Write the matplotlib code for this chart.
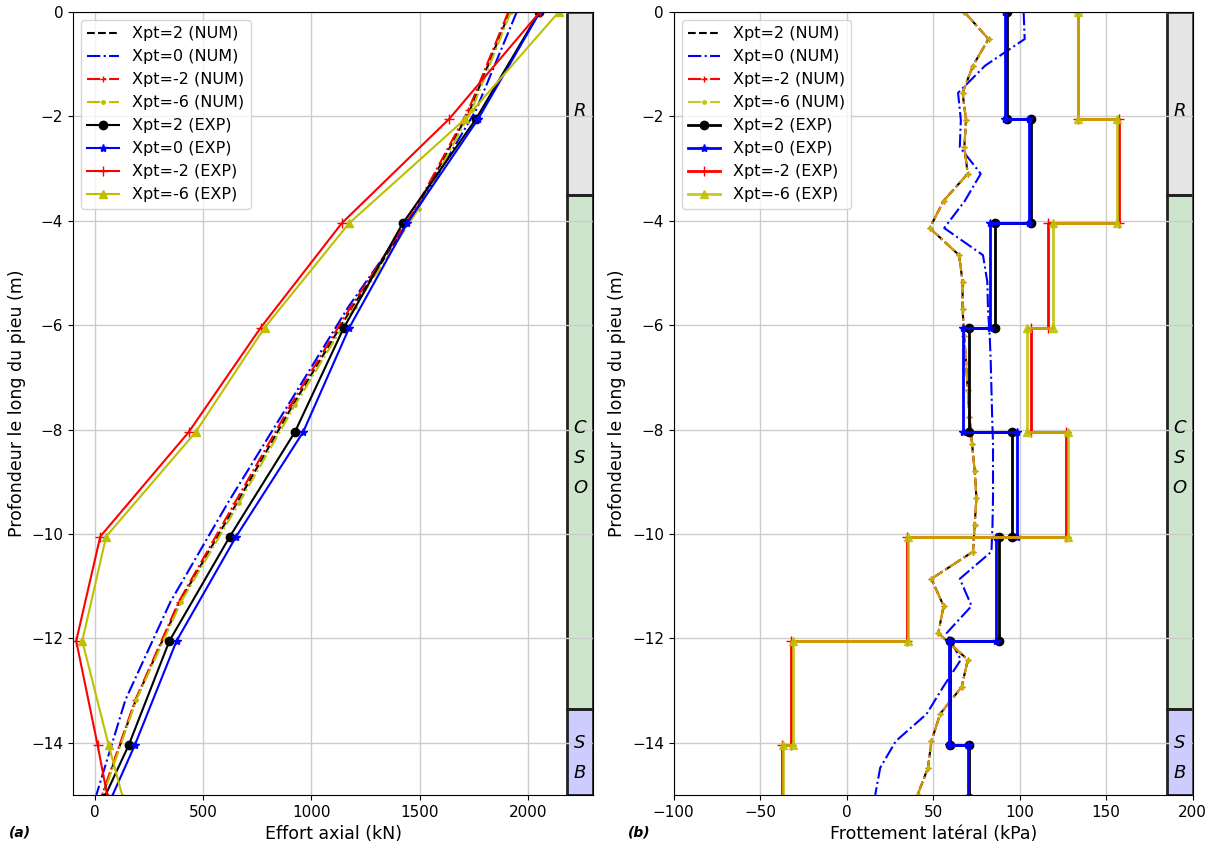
import numpy as np
import matplotlib
matplotlib.use("Agg")
import matplotlib.pyplot as plt
from matplotlib.patches import Rectangle
import matplotlib.transforms as mtransforms

# ---- data ----
# experimental gauges (depth of each measurement level, m)
z_exp = [0, -2.05, -4.05, -6.05, -8.05, -10.05, -12.05, -14.05, -15.05]

# axial load (kN)
N_exp_2 = [2052, 1760, 1422, 1150, 924, 624, 345, 157, 45]
N_exp_0 = [2055, 1770, 1442, 1175, 962, 653, 378, 185, 78]
N_exp_m2 = [2055, 1636, 1140, 766, 434, 26, -85, 14, 60]
N_exp_m6 = [2142, 1710, 1174, 784, 466, 53, -57, 65, 130]

# numerical axial load (kN)
z_num_N = [0, -1.88, -3.77, -5.65, -7.53, -9.41, -11.30, -13.18, -15.0]
N_num_2 = [1915, 1732, 1487, 1190, 915, 656, 393, 190, 37]
N_num_0 = [1948, 1760, 1490, 1171, 893, 614, 350, 142, 8]
N_num_m2 = [1909, 1725, 1480, 1182, 905, 646, 388, 188, 34]
N_num_m6 = [1921, 1740, 1495, 1200, 925, 666, 399, 192, 40]

# lateral friction per gauge segment (kPa)
q_exp_2 = [92.6, 106.5, 86.0, 70.7, 95.5, 88.0, 60.0, 70.5]
q_exp_0 = [91.4, 105.2, 83.0, 67.0, 98.4, 86.5, 59.3, 70.2]
q_exp_m2 = [133.5, 157.6, 116.6, 106.5, 126.5, 34.7, -32.0, -37.6]
q_exp_m6 = [134.0, 156.0, 119.5, 104.3, 128.0, 35.7, -31.0, -36.6]

# numerical lateral friction (kPa)
z_num_q = [0, -0.52, -1.03, -1.55, -2.07, -2.59, -3.10, -3.62, -4.14, -4.66,
           -5.17, -5.69, -6.21, -6.72, -7.24, -7.76, -8.28, -8.79, -9.31, -9.83,
           -10.34, -10.86, -11.38, -11.90, -12.41, -12.93, -13.45, -13.97, -14.48, -15.0]
q_num_brown = [68, 82, 73, 67, 69, 68, 70, 56, 48, 65,
               67, 67, 68, 69, 70, 71, 72.5, 74, 75, 74,
               73, 49, 56, 53, 70, 66.5, 54, 49, 47, 41]
q_num_0 = [102.3, 102.9, 80, 64.4, 66, 65.4, 77.5, 68.3, 56.4, 78.8,
           81.3, 81.7, 82.7, 83.3, 83.7, 84.1, 84.6, 84.6, 84.6, 84.3,
           83.7, 65.4, 72.2, 57.8, 66.0, 55.8, 46.2, 28.4, 19.4, 16.5]

# soil layers
layers = ["R", "C\nS\nO", "S\nB"]
layer_top = [0, -3.5, -13.35]
layer_bot = [-3.5, -13.35, -15]
layer_txt = [-1.9, -8.55, -14.3]
layer_col = ["gray", "green", "blue"]

YA = 0.85  # yellow lines on (b) are a bit transparent


def steps(z, q):
    zz = np.repeat(z, 2)[1:-1]
    qq = np.repeat(q, 2)
    return qq, zz


def soil(ax):
    trans = mtransforms.blended_transform_factory(ax.transAxes, ax.transData)
    for name, top, bot, zt, c in zip(layers, layer_top, layer_bot, layer_txt, layer_col):
        fc = matplotlib.colors.to_rgba(c, 0.2)
        ax.add_patch(Rectangle((0.95, bot), 0.05, top - bot, transform=trans,
                               facecolor=fc, edgecolor="#222222", lw=2, zorder=0.5))
        ax.text(0.975, zt, name, transform=trans, ha="center", va="center",
                style="italic", fontsize=13, linespacing=1.85)


fig = plt.figure(figsize=(12.16, 8.52), dpi=100)
ax1 = fig.add_axes([0.060, 0.067, 0.4277, 0.919])
ax2 = fig.add_axes([0.554, 0.067, 0.4268, 0.919])

lbls = ["Xpt=2", "Xpt=0", "Xpt=-2", "Xpt=-6"]

# --- (a) axial load ---
ax1.plot(N_num_2, z_num_N, "k--", lw=1.5, label=lbls[0] + " (NUM)")
ax1.plot(N_num_0, z_num_N, "b-.", lw=1.5, label=lbls[1] + " (NUM)")
ax1.plot(N_num_m2, z_num_N, "r-.", marker="+", ms=4, lw=1.5, label=lbls[2] + " (NUM)")
ax1.plot(N_num_m6, z_num_N, "y-.", marker=".", ms=5, lw=1.5, label=lbls[3] + " (NUM)")
ax1.plot(N_exp_2, z_exp, "k-", marker="o", ms=6, lw=1.5, label=lbls[0] + " (EXP)")
ax1.plot(N_exp_0, z_exp, "b-", marker="*", ms=6, lw=1.5, label=lbls[1] + " (EXP)")
ax1.plot(N_exp_m2, z_exp, "r-", marker="+", ms=7, lw=1.5, label=lbls[2] + " (EXP)")
ax1.plot(N_exp_m6, z_exp, "y-", marker="^", ms=6, lw=1.5, label=lbls[3] + " (EXP)")
ax1.set_xlim(-100, 2300)
ax1.set_ylim(-15, 0)
ax1.set_xlabel("Effort axial (kN)", fontsize=12.5)
ax1.set_ylabel("Profondeur le long du pieu (m)", fontsize=12.5)
soil(ax1)

# --- (b) lateral friction ---
ax2.plot(q_num_brown, z_num_q, "k--", lw=1.5, label=lbls[0] + " (NUM)")
ax2.plot(q_num_0, z_num_q, "b-.", lw=1.5, label=lbls[1] + " (NUM)")
ax2.plot(q_num_brown, z_num_q, "r-.", marker="+", ms=4, lw=1.5, label=lbls[2] + " (NUM)")
ax2.plot(q_num_brown, z_num_q, "y-.", marker=".", ms=5, lw=1.5, alpha=YA, label=lbls[3] + " (NUM)")
for q, fmt, mk, ms, i, a in [(q_exp_2, "k-", "o", 6, 0, 1), (q_exp_0, "b-", "*", 6, 1, 1),
                             (q_exp_m2, "r-", "+", 7, 2, 1), (q_exp_m6, "y-", "^", 6, 3, YA)]:
    xs, zs = steps(z_exp, q)
    ax2.plot(xs, zs, fmt, marker=mk, ms=ms, lw=2, alpha=a, label=lbls[i] + " (EXP)")
ax2.set_xlim(-100, 200)
ax2.set_ylim(-15, 0)
ax2.set_xlabel("Frottement latéral (kPa)", fontsize=12.5)
ax2.set_ylabel("Profondeur le long du pieu (m)", fontsize=12.5)
soil(ax2)

for ax in (ax1, ax2):
    ax.set_yticks([0, -2, -4, -6, -8, -10, -12, -14])
    ax.tick_params(labelsize=11)
    ax.grid(True, color="#cccccc", lw=1)
    ax.set_axisbelow(True)
    ax.legend(loc="upper left", fontsize=11.5)

fig.text(0.007, 0.018, "(a)", fontsize=10, fontweight="bold", style="italic")
fig.text(0.516, 0.018, "(b)", fontsize=10, fontweight="bold", style="italic")

fig.savefig("out.png", dpi=100)
